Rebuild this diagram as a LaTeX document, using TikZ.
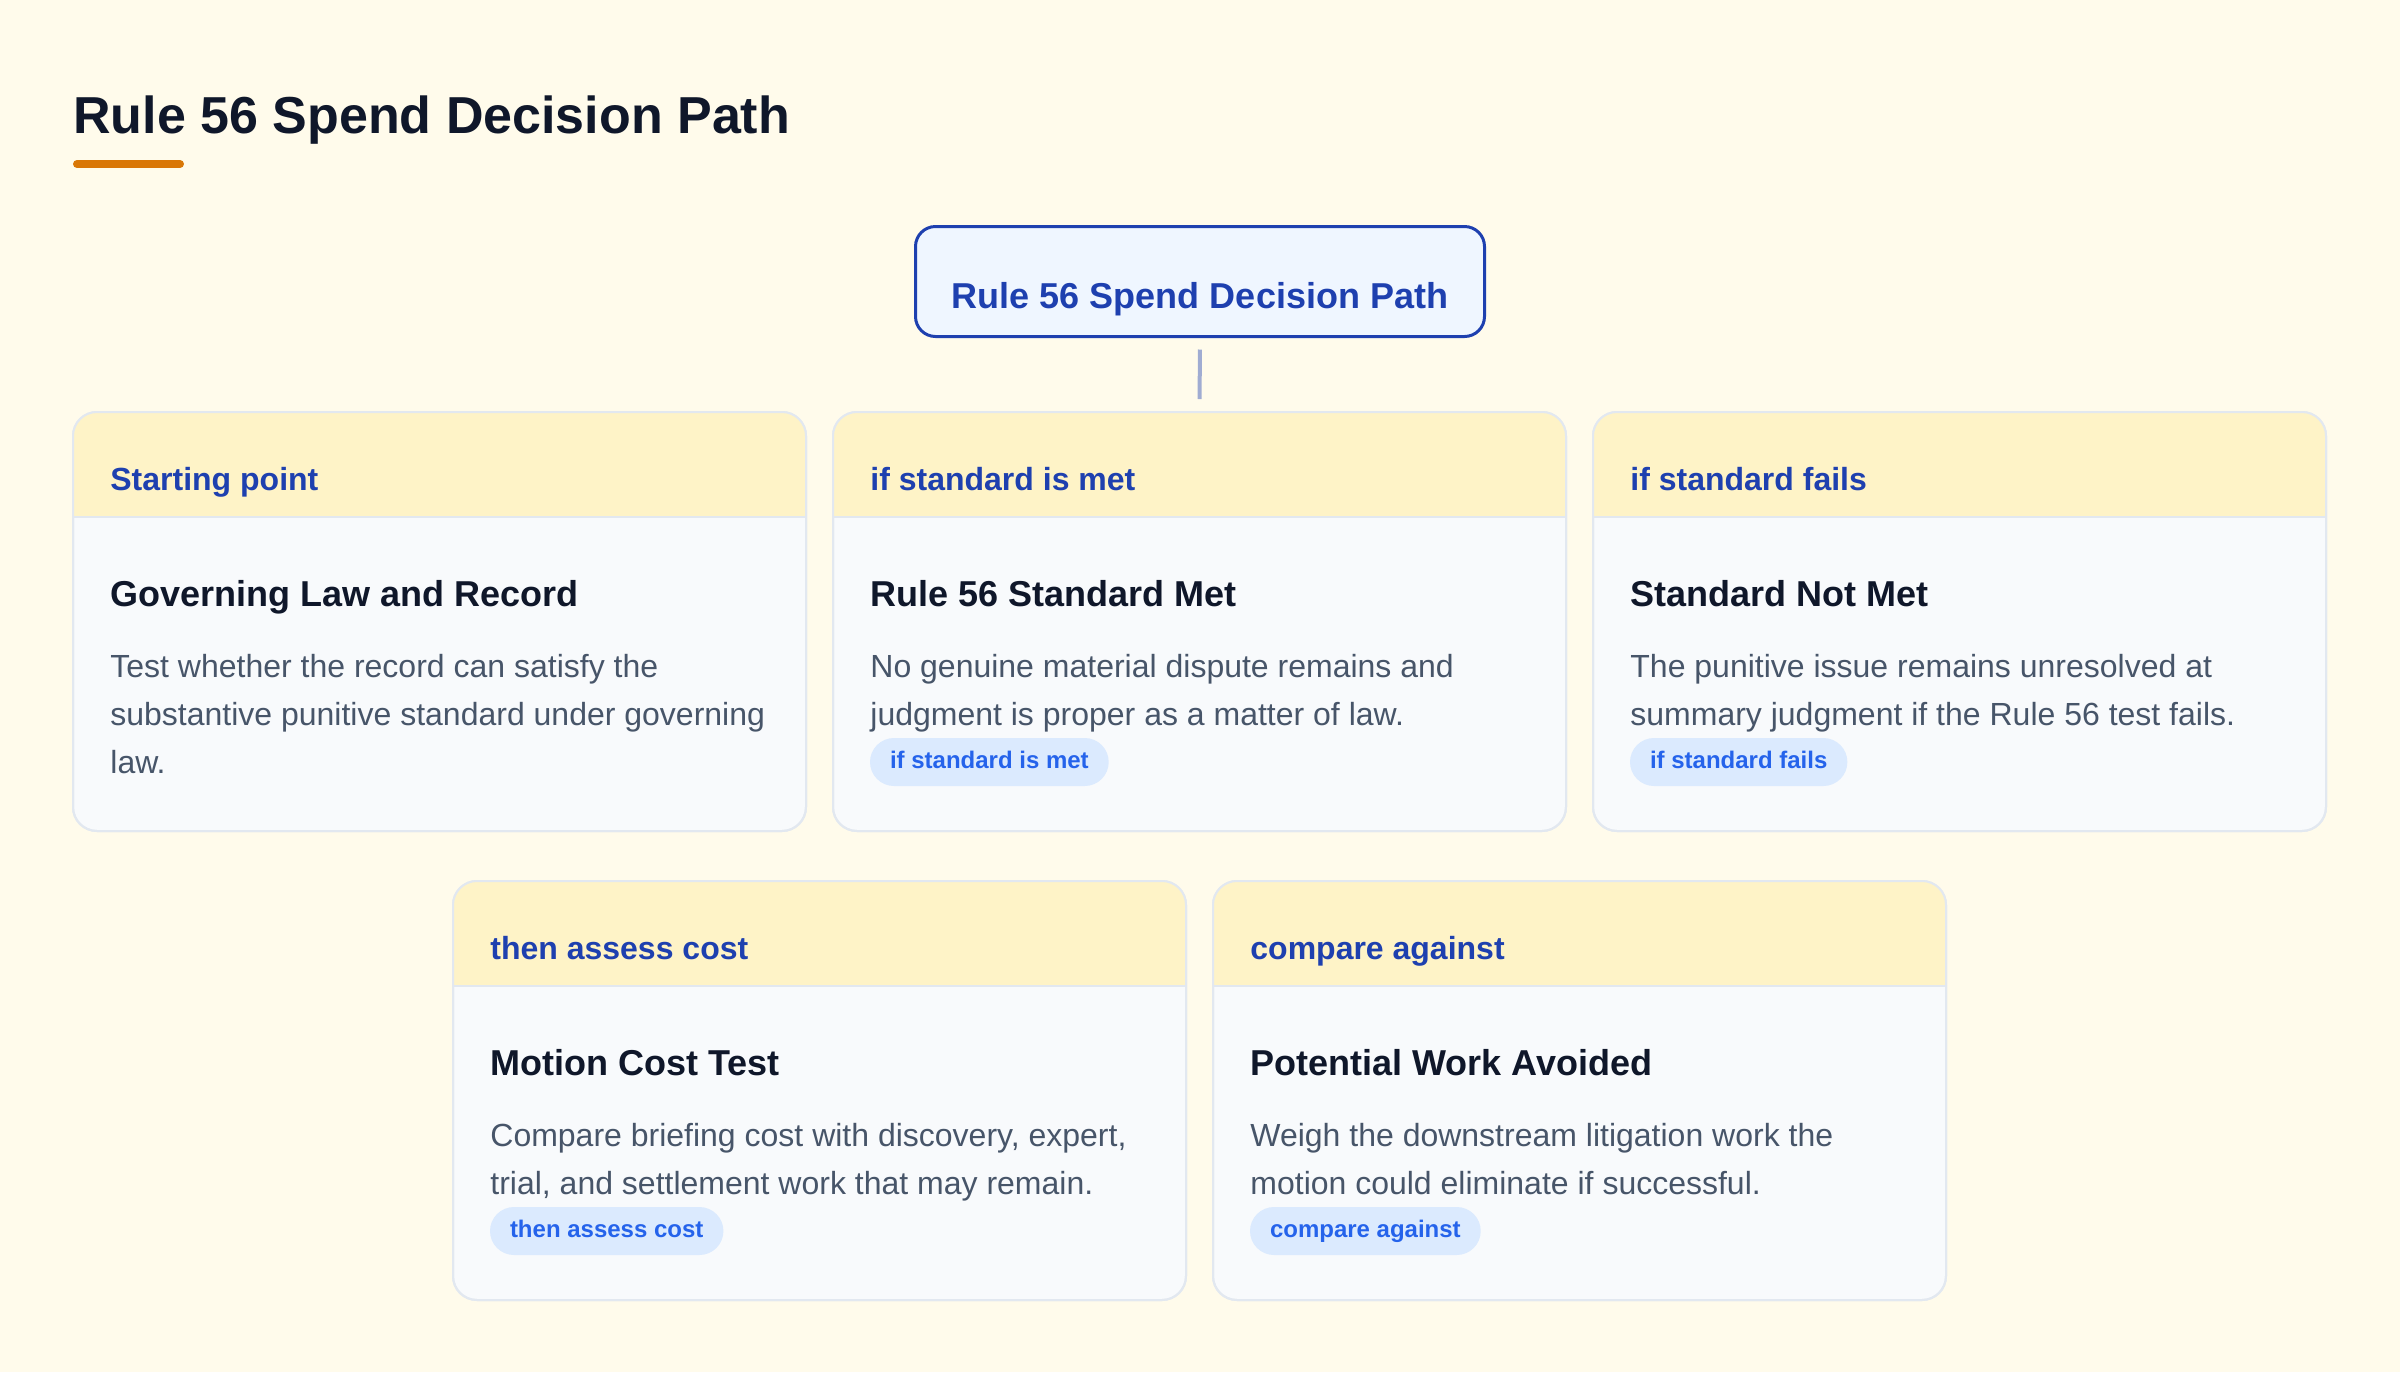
\documentclass[tikz,border=0pt]{standalone}
\usepackage{fontspec}
\setmainfont{Liberation Sans}
\usetikzlibrary{calc}
\definecolor{bg}{HTML}{FFFBEB}
\definecolor{hdrfill}{HTML}{FEF3C7}
\definecolor{bodyfill}{HTML}{F8FAFC}
\definecolor{cardline}{HTML}{E2E8F0}
\definecolor{navy}{HTML}{1E40AF}
\definecolor{ink}{HTML}{0F172A}
\definecolor{slate}{HTML}{475569}
\definecolor{pillfill}{HTML}{DBEAFE}
\definecolor{pilltext}{HTML}{2563EB}
\definecolor{topfill}{HTML}{EFF6FF}
\definecolor{accent}{HTML}{D97706}
\definecolor{connc}{RGB}{160,172,210}
\tikzset{
  cardbox/.style={draw=cardline, line width=1pt, fill=bodyfill, rounded corners=12pt,
    minimum width=366.5pt, minimum height=209.5pt, inner sep=0pt, outer sep=0pt, anchor=north west},
  hdrlabel/.style={anchor=base west, inner sep=0pt, text=navy, font=\fontsize{16pt}{19pt}\selectfont\bfseries},
  cardtitle/.style={anchor=base west, inner sep=0pt, text=ink, font=\fontsize{18pt}{22pt}\selectfont\bfseries},
  cardbody/.style={anchor=base west, inner sep=0pt, text=slate, font=\fontsize{16pt}{24pt}\selectfont},
  pill/.style={anchor=north west, fill=pillfill, text=pilltext, rounded corners=12pt,
    inner xsep=10pt, inner ysep=0pt, minimum height=24pt, text height=9pt, text depth=3pt,
    outer sep=0pt, font=\fontsize{12pt}{14pt}\selectfont\bfseries},
  topbox/.style={draw=navy, line width=1.5pt, fill=topfill, rounded corners=10pt,
    minimum width=284.5pt, minimum height=55pt, inner sep=0pt, outer sep=0pt},
  toptext/.style={anchor=base, inner sep=0pt, text=navy, font=\fontsize{18pt}{22pt}\selectfont\bfseries},
  maintitle/.style={anchor=base west, inner sep=0pt, text=ink, font=\fontsize{26pt}{30pt}\selectfont\bfseries},
  conn/.style={draw=connc, line width=2pt, shorten >=6.5pt, shorten <=6.5pt},
}
\newcommand\drawcard[4]{%
  \node[cardbox] (#1) at (#2,#3) {};
  \begin{scope}
    \clip[rounded corners=12pt] (#1.north west) rectangle (#1.south east);
    \fill[hdrfill] (#1.north west) rectangle ($(#1.north east)+(0,105)$);
  \end{scope}
  \draw[cardline, line width=1pt] ($(#1.north west)+(0,105)$) -- ($(#1.north east)+(0,105)$);
  \draw[cardline, line width=1pt, rounded corners=12pt] (#1.north west) rectangle (#1.south east);
  \node[hdrlabel] (#1-label) at ($(#1.north west)+(37,78)$) {#4};
}
\begin{document}
\begin{tikzpicture}[x=0.5pt, y=-0.5pt]
  \fill[bg] (0,0) rectangle (2400,1372);
  \useasboundingbox (0,0) rectangle (2400,1372);

  % page title
  \node[maintitle] (title) at (73,133) {Rule 56 Spend Decision Path};
  \draw[accent, line width=4pt, line cap=round] (77,164) -- (180,164);

  % top node
  \node[topbox] (top) at (1200,281.5) {};
  \node[toptext] (toptext) at (1200,308) {Rule 56 Spend Decision Path};

  % row 1
  \drawcard{c1}{73}{412}{Starting point}
  \drawcard{c2}{833}{412}{if standard is met}
  \drawcard{c3}{1593}{412}{if standard fails}
  % row 2
  \drawcard{c4}{453}{881}{then assess cost}
  \drawcard{c5}{1213}{881}{compare against}

  \draw[conn] (top.south) -- (c2.north);

  % card 1
  \node[cardtitle] (c1-title) at ($(c1.north west)+(37,194)$) {Governing Law and Record};
  \node[cardbody] (c1-body) at ($(c1.north west)+(37,265)$)
    {\parbox[t]{340pt}{Test whether the record can satisfy the\\substantive punitive standard under governing\\law.}};

  % card 2
  \node[cardtitle] (c2-title) at ($(c2.north west)+(37,194)$) {Rule 56 Standard Met};
  \node[cardbody] (c2-body) at ($(c2.north west)+(37,265)$)
    {\parbox[t]{340pt}{No genuine material dispute remains and\\judgment is proper as a matter of law.}};
  \node[pill] (c2-pill) at ($(c2.north west)+(37,326)$) {if standard is met};

  % card 3
  \node[cardtitle] (c3-title) at ($(c3.north west)+(37,194)$) {Standard Not Met};
  \node[cardbody] (c3-body) at ($(c3.north west)+(37,265)$)
    {\parbox[t]{340pt}{The punitive issue remains unresolved at\\summary judgment if the Rule 56 test fails.}};
  \node[pill] (c3-pill) at ($(c3.north west)+(37,326)$) {if standard fails};

  % card 4
  \node[cardtitle] (c4-title) at ($(c4.north west)+(37,194)$) {Motion Cost Test};
  \node[cardbody] (c4-body) at ($(c4.north west)+(37,265)$)
    {\parbox[t]{340pt}{Compare briefing cost with discovery, expert,\\trial, and settlement work that may remain.}};
  \node[pill] (c4-pill) at ($(c4.north west)+(37,326)$) {then assess cost};

  % card 5
  \node[cardtitle] (c5-title) at ($(c5.north west)+(37,194)$) {Potential Work Avoided};
  \node[cardbody] (c5-body) at ($(c5.north west)+(37,265)$)
    {\parbox[t]{340pt}{Weigh the downstream litigation work the\\motion could eliminate if successful.}};
  \node[pill] (c5-pill) at ($(c5.north west)+(37,326)$) {compare against};
\end{tikzpicture}
\end{document}
